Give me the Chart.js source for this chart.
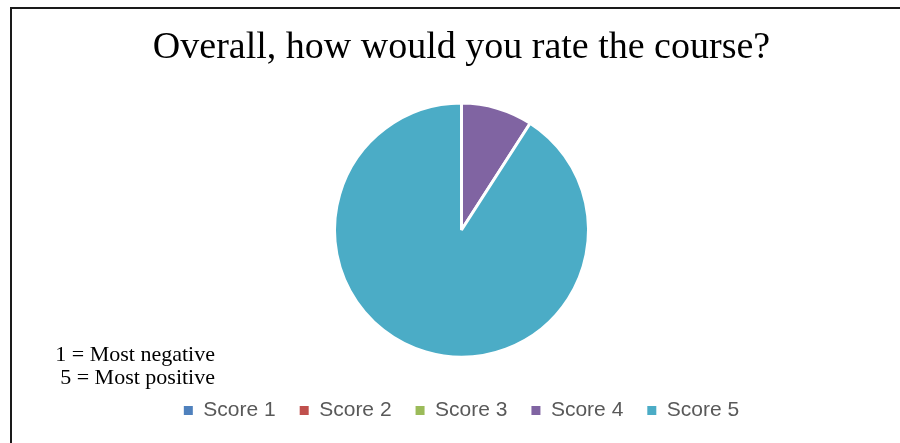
<!DOCTYPE html>
<html>
<head>
<meta charset="utf-8">
<script src="https://cdn.jsdelivr.net/npm/chart.js@4.4.1/dist/chart.umd.min.js"></script>
<style>
  html, body { margin: 0; padding: 0; background: #ffffff; }
  #wrap { width: 900px; height: 443px; position: relative; }
</style>
</head>
<body>
<div id="wrap"><canvas id="c" width="900" height="443"></canvas></div>
<script>
const titleText = "Overall, how would you rate the course?";
const categories = ["Score 1", "Score 2", "Score 3", "Score 4", "Score 5"];
const responses = [0, 0, 0, 1, 10];
const sliceColors = ["#4F81BD", "#C0504D", "#9BBB59", "#8064A2", "#4BACC6"];
const noteLines = ["1 = Most negative", "5 = Most positive"];

const framePlugin = {
  id: "frame",
  beforeDraw(chart) {
    const ctx = chart.ctx;
    ctx.save();
    ctx.fillStyle = "#ffffff";
    ctx.fillRect(0, 0, chart.width, chart.height);
    ctx.restore();
  },
  afterDraw(chart) {
    const ctx = chart.ctx;
    ctx.save();
    ctx.strokeStyle = "#1a1a1a";
    ctx.lineWidth = 2;
    ctx.beginPath();
    ctx.moveTo(11, chart.height);
    ctx.lineTo(11, 8);
    ctx.lineTo(chart.width, 8);
    ctx.stroke();
    ctx.fillStyle = "#000000";
    ctx.font = "22px 'Liberation Serif', serif";
    ctx.textAlign = "right";
    ctx.textBaseline = "middle";
    ctx.fillText(noteLines[0], 215, 355);
    ctx.fillText(noteLines[1], 215, 378);
    ctx.restore();
  }
};

new Chart(document.getElementById("c"), {
  type: "pie",
  data: {
    labels: categories,
    datasets: [{
      data: responses,
      backgroundColor: sliceColors,
      borderColor: "#ffffff",
      borderWidth: 3,
      radius: 127
    }]
  },
  options: {
    responsive: false,
    animation: false,
    layout: { padding: { left: 23, right: 0, top: 0, bottom: 12 } },
    plugins: {
      title: {
        display: true,
        text: titleText,
        color: "#000000",
        font: { family: "'Liberation Serif', serif", size: 38, weight: "normal" },
        padding: { top: 25, bottom: 13.5 }
      },
      legend: {
        position: "bottom",
        labels: {
          boxWidth: 9,
          boxHeight: 9,
          color: "#595959",
          padding: 24,
          font: { family: "'Liberation Sans', sans-serif", size: 21 },
          generateLabels(chart) {
            const items = Chart.overrides.pie.plugins.legend.labels.generateLabels(chart);
            items.forEach(it => { it.lineWidth = 0; it.strokeStyle = "rgba(0,0,0,0)"; });
            return items;
          }
        }
      },
      tooltip: { enabled: false }
    }
  },
  plugins: [framePlugin]
});
</script>
</body>
</html>
